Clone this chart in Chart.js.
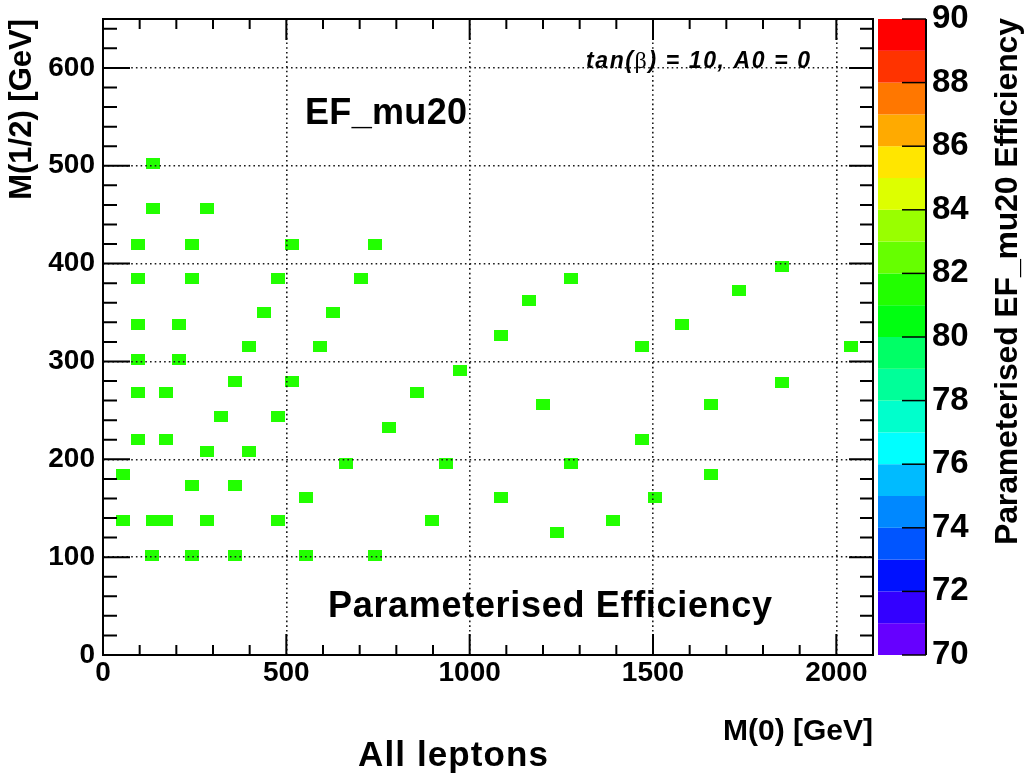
<!DOCTYPE html>
<html>
<head>
<meta charset="utf-8">
<title>EF_mu20 parameterised efficiency</title>
<script src="https://cdn.jsdelivr.net/npm/chart.js@4/dist/chart.umd.min.js"></script>
<style>
  html, body { margin: 0; padding: 0; background: #fff; }
  #wrap { width: 1028px; height: 779px; }
</style>
</head>
<body>
<div id="wrap"><canvas id="effChart" width="1028" height="779"></canvas></div>
<script>
// scan points, M(0) and M(1/2) in GeV
var m0_values = [
  135, 135, 283, 95, 244, 515, 742, 95, 244, 477,
  703, 1277, 1851, 1735, 1161, 438, 628, 95, 208, 1580,
  1086, 399, 592, 1470, 2039, 95, 208, 973, 360, 515,
  1851, 95, 172, 856, 1200, 1658, 322, 477, 779, 95,
  172, 1470, 283, 399, 664, 935, 1277, 55, 1658, 244,
  360, 553, 1086, 1505, 55, 135, 172, 283, 476, 896,
  1392, 1238, 134, 244, 360, 553, 741
];
var m12_values = [
  502, 456, 456, 420, 420, 420, 420, 385, 385, 385,
  385, 385, 397, 373, 362, 350, 350, 338, 338, 338,
  327, 315, 315, 315, 315, 302, 302, 291, 280, 280,
  279, 268, 268, 268, 256, 256, 244, 244, 232, 220,
  220, 220, 208, 208, 196, 196, 196, 184, 184, 173,
  173, 161, 161, 161, 137, 137, 137, 137, 137, 137,
  137, 125, 102, 102, 102, 102, 102
];
// every point sits in the 81-82 band of the colour scale
var eff_value = 81.5;

var x_major = [0, 500, 1000, 1500, 2000];
var y_major = [0, 100, 200, 300, 400, 500, 600];
var z_min = 70, z_max = 90;
// ROOT-like palette, one colour per unit from 70 (bottom) to 90 (top)
var palette = ['#6600ff', '#3300ff', '#0011ff', '#0055ff', '#0088ff', '#00bbff', '#00ffff', '#00ffcc', '#00ff99', '#00ff66',
               '#00ff11', '#22ff00', '#66ff00', '#99ff00', '#ddff00', '#ffe600', '#ffaa00', '#ff7700', '#ff3300', '#ff0000'];

var FONT = '"Liberation Sans", Arial, Helvetica, sans-serif';

function colourFor(v) {
  var i = Math.floor(v - z_min);
  if (i < 0) i = 0;
  if (i > palette.length - 1) i = palette.length - 1;
  return palette[i];
}

// the histogram cell marker
function makeBox(col) {
  var c = document.createElement('canvas');
  c.width = 14; c.height = 11;
  var g = c.getContext('2d');
  g.fillStyle = col;
  g.fillRect(0, 0, 14, 11);
  return c;
}

// draw a text stretched with letter spacing to a given width
function fitText(ctx, str, x, y, width) {
  ctx.letterSpacing = '0px';
  var w = ctx.measureText(str).width;
  if (str.length > 1) ctx.letterSpacing = ((width - w) / (str.length - 1)) + 'px';
  ctx.textAlign = 'left';
  ctx.fillText(str, x, y);
  ctx.letterSpacing = '0px';
}

var rootDecor = {
  id: 'rootDecor',
  afterDraw: function (chart) {
    var ctx = chart.ctx, a = chart.chartArea;
    var sx = chart.scales.x, sy = chart.scales.y, sz = chart.scales.zbar;
    ctx.save();

    // colour bar
    for (var i = 0; i < palette.length; i++) {
      var y1 = sz.getPixelForValue(z_min + i);
      var y2 = sz.getPixelForValue(z_min + i + 1);
      ctx.fillStyle = palette[i];
      ctx.fillRect(878, y2, 48, y1 - y2);
    }
    ctx.strokeStyle = '#000';
    ctx.lineWidth = 1.5;
    sz.ticks.forEach(function (t) {
      var py = sz.getPixelForValue(t.value);
      ctx.beginPath(); ctx.moveTo(902, py); ctx.lineTo(926, py); ctx.stroke();
    });
    ctx.lineWidth = 2;
    ctx.beginPath(); ctx.moveTo(926, sz.top); ctx.lineTo(926, sz.bottom); ctx.stroke();

    // frame ticks pointing inwards
    ctx.lineWidth = 2;
    sx.ticks.forEach(function (t) {
      var px = sx.getPixelForValue(t.value);
      var len = x_major.indexOf(t.value) >= 0 ? 21 : 10;
      ctx.beginPath();
      ctx.moveTo(px, a.bottom); ctx.lineTo(px, a.bottom - len);
      ctx.moveTo(px, a.top); ctx.lineTo(px, a.top + len);
      ctx.stroke();
    });
    sy.ticks.forEach(function (t) {
      var py = sy.getPixelForValue(t.value);
      var major = y_major.indexOf(t.value) >= 0;
      ctx.beginPath();
      ctx.moveTo(a.left, py); ctx.lineTo(a.left + (major ? 27 : 14), py);
      ctx.moveTo(a.right, py); ctx.lineTo(a.right - (major ? 24 : 13), py);
      ctx.stroke();
    });
    ctx.strokeRect(a.left, a.top, a.right - a.left, a.bottom - a.top);

    // labels
    ctx.fillStyle = '#000';
    ctx.textBaseline = 'alphabetic';
    ctx.font = 'bold 36px ' + FONT;
    fitText(ctx, 'EF_mu20', 305, 124, 162);
    ctx.font = 'bold 36px ' + FONT;
    fitText(ctx, 'Parameterised Efficiency', 328, 617, 444);
    ctx.font = 'bold 35px ' + FONT;
    fitText(ctx, 'All leptons', 358, 766, 190);

    // tan(beta) = 10, A0 = 0
    var parts = [
      ['tan(', 'italic bold 23px ' + FONT],
      ['\u03b2', '24px "Liberation Serif", "DejaVu Serif", serif'],
      [') = 10, A0 = 0', 'italic bold 23px ' + FONT]
    ];
    var natural = 0, nch = 0;
    parts.forEach(function (p) { ctx.font = p[1]; natural += ctx.measureText(p[0]).width; nch += p[0].length; });
    var gap = (224 - natural) / (nch - 1);
    var cx = 586;
    parts.forEach(function (p) {
      ctx.font = p[1];
      ctx.letterSpacing = gap + 'px';
      ctx.fillText(p[0], cx, 68);
      cx += ctx.measureText(p[0]).width;
    });
    ctx.letterSpacing = '0px';

    // colour bar title
    ctx.save();
    ctx.translate(1017, 545);
    ctx.rotate(-Math.PI / 2);
    ctx.font = 'bold 32px ' + FONT;
    fitText(ctx, 'Parameterised EF_mu20 Efficiency', 0, 0, 527);
    ctx.restore();

    ctx.restore();
  }
};

function gridColour(majors) {
  return function (c) {
    if (!c.tick) return 'rgba(0,0,0,0)';
    return (majors.indexOf(c.tick.value) > 0) ? '#1a1a1a' : 'rgba(0,0,0,0)';
  };
}

var points = [];
for (var k = 0; k < m0_values.length; k++) points.push({ x: m0_values[k], y: m12_values[k] });

var ctx0 = document.getElementById('effChart');
var effChart = new Chart(ctx0, {
  type: 'scatter',
  data: {
    datasets: [{
      label: 'EF_mu20',
      data: points,
      yAxisID: 'y',
      pointStyle: makeBox(colourFor(eff_value)),
      pointRadius: 7,
      pointHoverRadius: 7
    }]
  },
  options: {
    responsive: false,
    devicePixelRatio: 1,
    animation: false,
    events: [],
    layout: { padding: { top: 19, left: 0, right: 0, bottom: 0 } },
    plugins: { legend: { display: false }, tooltip: { enabled: false }, title: { display: false } },
    scales: {
      x: {
        type: 'linear', position: 'bottom', min: 0, max: 2100,
        ticks: {
          stepSize: 100, autoSkip: false, maxRotation: 0, minRotation: 0, padding: 1,
          color: '#000', font: { family: FONT, size: 28, weight: 'bold' },
          callback: function (v) { return x_major.indexOf(v) >= 0 ? String(v) : ''; }
        },
        grid: { drawTicks: false, color: gridColour(x_major), lineWidth: 1.6, z: 1 },
        border: { display: false, dash: [1.6, 3.1] },
        title: { display: true, text: 'M(0) [GeV]', align: 'end', color: '#000',
                 font: { family: FONT, size: 30, weight: 'bold' }, padding: { top: 0, bottom: 29 } },
        afterFit: function (s) { s.height = 124; s.paddingLeft = 0; s.paddingRight = 0; }
      },
      y: {
        type: 'linear', position: 'left', min: 0, max: 650,
        ticks: {
          stepSize: 20, includeBounds: false, autoSkip: false, padding: 8,
          color: '#000', font: { family: FONT, size: 28, weight: 'bold' },
          callback: function (v) { return y_major.indexOf(v) >= 0 ? String(v) : ''; }
        },
        grid: { drawTicks: false, color: gridColour(y_major), lineWidth: 1.6, z: 1 },
        border: { display: false, dash: [1.6, 3.1] },
        title: { display: true, text: 'M(1/2) [GeV]', align: 'end', color: '#000',
                 font: { family: FONT, size: 31, weight: 'bold' }, padding: { top: 4, bottom: 0 } },
        afterFit: function (s) { s.width = 103; s.paddingTop = 0; s.paddingBottom = 0; }
      },
      zbar: {
        type: 'linear', axis: 'y', position: 'right', min: z_min, max: z_max,
        ticks: { stepSize: 2, padding: 59, color: '#000', font: { family: FONT, size: 33, weight: 'bold' } },
        grid: { display: false, drawTicks: false },
        border: { display: false },
        afterFit: function (s) { s.width = 155; s.paddingTop = 0; s.paddingBottom = 0; }
      }
    }
  },
  plugins: [rootDecor]
});
</script>
</body>
</html>
